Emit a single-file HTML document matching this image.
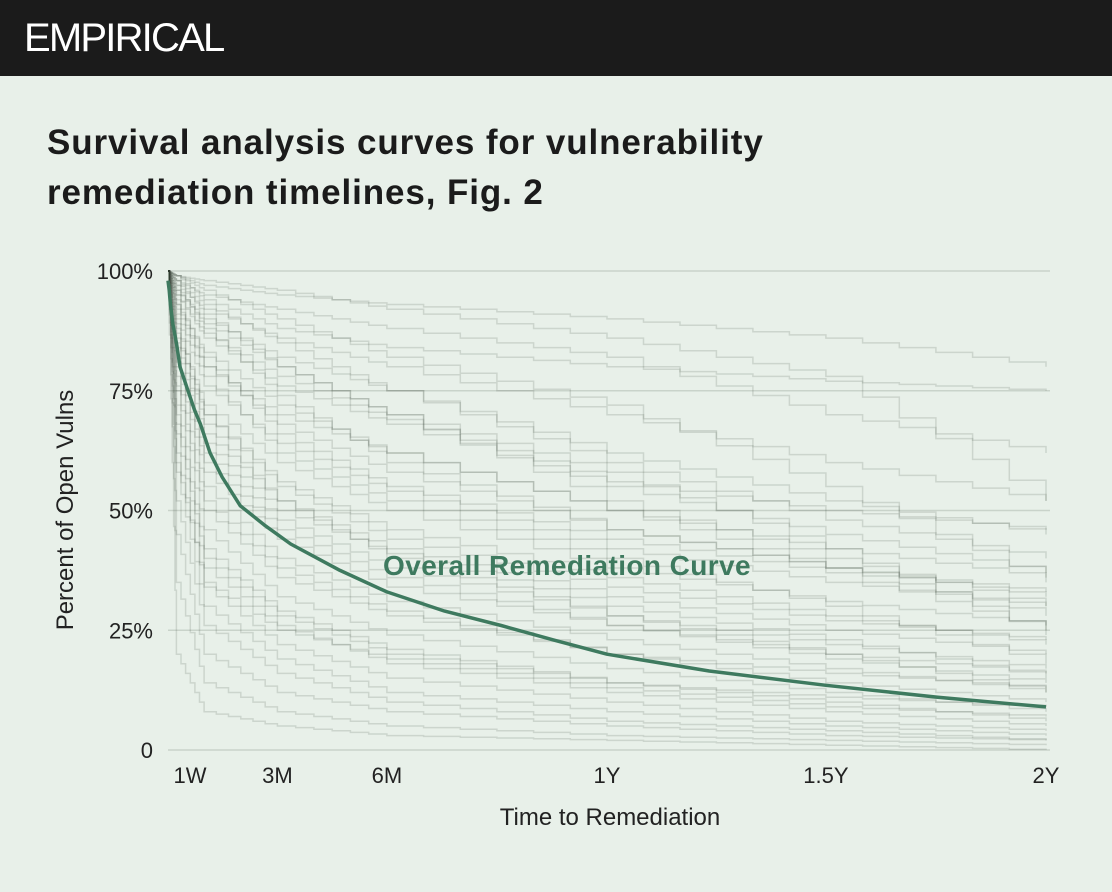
<!DOCTYPE html>
<html><head><meta charset="utf-8"><style>
body{margin:0;width:1112px;height:892px;background:#e8f0e9;font-family:"Liberation Sans",sans-serif;overflow:hidden}
#hdr{position:absolute;left:0;top:0;width:1112px;height:76px;background:#1b1b1b}
#logo{position:absolute;left:24px;top:16px;color:#fff;font-size:40px;letter-spacing:-1.8px;font-weight:400}
#title{position:absolute;left:47px;top:118px;font-size:35px;font-weight:700;line-height:50px;color:#1b1b1b;letter-spacing:0.9px}
svg{position:absolute;left:0;top:0}
</style></head><body>
<div id="hdr"><div id="logo">EMPIRICAL</div></div>
<div id="title">Survival analysis curves for vulnerability<br>remediation timelines, Fig. 2</div>
<svg id="chart" width="1112" height="892"></svg>
<script>
const yTicks=[0,25,50,75,100];
const yTickLabels=["0","25%","50%","75%","100%"];
const xTicks=[7,91,182,365,547,730];
const xTickLabels=["1W","3M","6M","1Y","1.5Y","2Y"];
const overallDays=[0,1,2,4,7,10,14,18,22,27,35,45,60,80,102,143,182,230,277,320,365,450,547,640,730];
const overallPct=[98,96,93,89,85,80,77,74,71,68,62,57,51,47,43,37.5,33,29,26,23,20,16.5,13.5,11,9];
const bgDays=[0,7,30,91,182,365,547,730];
const bgCurves=[
[100,99,97,95,93,90,86,80],[100,98,95,92,88,82,70,62],[100,97,92,86,80,70,60,52],
[100,96,90,82,75,62,52,45],[100,95,86,76,68,55,45,37],[100,93,83,72,62,50,42,36],
[100,92,80,68,58,46,38,33],[100,90,76,64,54,42,35,30],[100,88,72,60,50,38,31,26],
[100,86,70,56,46,36,28,22],[100,85,66,52,42,32,25,20],[100,82,62,48,38,28,22,17],
[100,80,58,44,34,26,19,14],[100,78,55,40,31,23,17,12],[100,75,50,36,28,20,14,10],
[100,72,46,32,24,17,12,8],[100,70,42,29,21,14,10,6],[100,66,38,26,18,12,8,5],
[100,62,34,22,15,10,6,4],[100,58,30,19,12,8,5,3],[100,52,26,16,10,6,4,2],
[100,45,20,12,8,5,3,2],[100,35,14,8,5,3,2,1],[100,20,8,5,3,2,1,0],
[100,98,93,85,75,60,48,40],[100,97,88,74,60,46,38,32],[100,94,82,66,55,44,37,25],
[100,99,96,90,82,72,55,35],[100,96,89,80,70,58,42,24],[100,91,78,62,52,40,30,18],
[100,89,70,55,44,34,27,23],[100,84,64,50,41,30,23,15],[100,99,98,96,92,86,78,52],
[100,95,87,78,69,56,50,46],[100,87,68,52,40,28,20,12],[100,76,52,38,29,20,16,13],
[100,68,40,28,20,14,11,9],[100,60,35,25,19,13,9,7],[100,99,94,88,84,80,77,75],
[100,98,91,80,70,52,40,30],[100,93,80,70,62,50,38,28],[100,81,60,46,36,26,20,16]
];
const svg=document.getElementById('chart');
const NS='http://www.w3.org/2000/svg';
const X0=168,X1=1046,Y0=750,Y1=271;
const xs=d=>X0+d/730*(X1-X0);
const ys=p=>Y0-p/100*(Y0-Y1);
function mk(tag,attrs){const e=document.createElementNS(NS,tag);for(const k in attrs)e.setAttribute(k,attrs[k]);svg.appendChild(e);return e;}
yTicks.forEach((t,i)=>{
 const g=mk('line',{x1:X0,x2:1050,y1:ys(t),y2:ys(t),stroke:'#c9d3ca','stroke-width':1.5});
 
 
 const l=mk('text',{x:153,y:ys(t)+8,'text-anchor':'end','font-size':22,fill:'#222','font-family':'Liberation Sans, sans-serif'});
 l.textContent=yTickLabels[i];
 
 
});
xTicks.forEach((t,i)=>{
 const l=mk('text',{x:i==0?190:(i==5?1046:xs(t)),y:783,'text-anchor':'middle','font-size':22,fill:'#222','font-family':'Liberation Sans, sans-serif'});
 l.textContent=xTickLabels[i];
 
 
});
function stepPath(days,vals){
 let d='M'+xs(days[0])+','+ys(vals[0]);
 for(let i=1;i<days.length;i++){
  const xa=xs(days[i-1]),xb=xs(days[i]),ya=ys(vals[i-1]),yb=ys(vals[i]);
  const n=6;
  for(let k=1;k<=n;k++){const x=xa+(xb-xa)*k/n;const y=ya+(yb-ya)*k/n;d+=' H'+x.toFixed(1)+' V'+y.toFixed(1);}
 }
 return d;
}
bgCurves.forEach(c=>{
 const p=mk('path',{d:stepPath(bgDays,c),fill:'none',stroke:'rgba(50,60,50,0.15)','stroke-width':1.5});
 
 
});
let dd='';
overallDays.forEach((d,i)=>{dd+=(i?'L':'M')+xs(d).toFixed(1)+','+ys(overallPct[i]).toFixed(1)+' ';});
const main=mk('path',{d:dd,fill:'none',stroke:'#3e7a5f','stroke-width':3.5,'stroke-linejoin':'round'});


const lab=mk('text',{x:567,y:575,'text-anchor':'middle','font-size':28,'font-weight':'bold',fill:'#3e7a5f','font-family':'Liberation Sans, sans-serif','letter-spacing':'0.4'});
lab.textContent='Overall Remediation Curve';


const xt=mk('text',{x:610,y:825,'text-anchor':'middle','font-size':24,fill:'#222','font-family':'Liberation Sans, sans-serif'});
xt.textContent='Time to Remediation';


const yt=mk('text',{x:0,y:0,'text-anchor':'middle','font-size':24,fill:'#222','font-family':'Liberation Sans, sans-serif',transform:'translate(73,510) rotate(-90)'});
yt.textContent='Percent of Open Vulns';


</script>
</body></html>
